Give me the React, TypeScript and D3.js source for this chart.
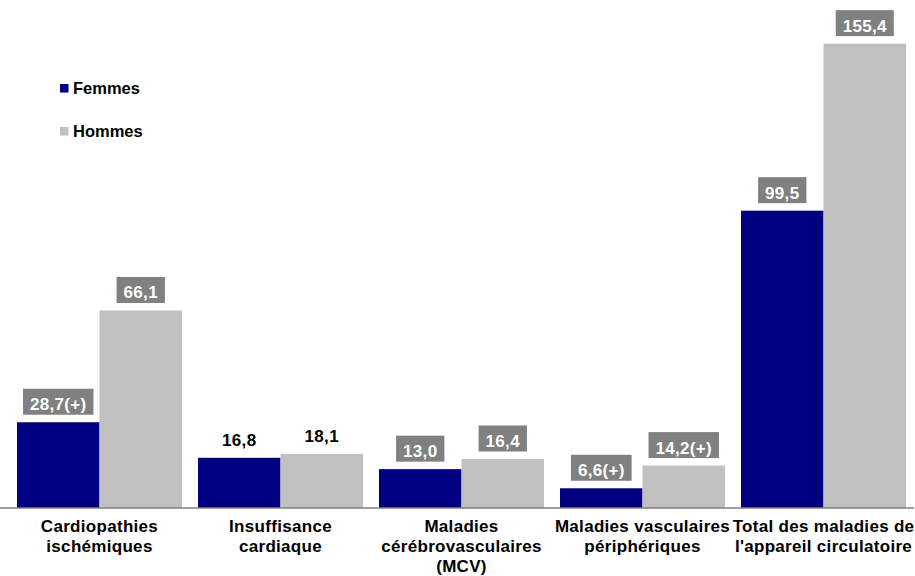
import React, { useEffect, useRef } from "react";
import * as d3 from "d3";

const categories: string[][] = [
  ["Cardiopathies", "ischémiques"],
  ["Insuffisance", "cardiaque"],
  ["Maladies", "cérébrovasculaires", "(MCV)"],
  ["Maladies vasculaires", "périphériques"],
  ["Total des maladies de", "l'appareil circulatoire"],
];
const seriesNames = ["Femmes", "Hommes"];
const femmes = [28.7, 16.8, 13.0, 6.6, 99.5];
const hommes = [66.1, 18.1, 16.4, 14.2, 155.4];
const femmesLabels = ["28,7(+)", "16,8", "13,0", "6,6(+)", "99,5"];
const hommesLabels = ["66,1", "18,1", "16,4", "14,2(+)", "155,4"];
const femmesBoxed = [true, false, true, true, true];
const hommesBoxed = [true, false, true, true, true];
const colors = ["#000080", "#C0C0C0"];

const W = 915;
const H = 576;
const FONT = "Arial, 'Liberation Sans', sans-serif";
const FS = 17;
const LS = 0.3;

export default function App() {
  const ref = useRef<SVGSVGElement>(null);

  useEffect(() => {
    const svg = d3.select(ref.current);
    svg.selectAll("*").remove();

    const catIdx = categories.map((_, i) => String(i));
    const x = d3.scaleBand<string>().domain(catIdx).range([9, 914]).padding(0);
    const xs = d3
      .scaleBand<string>()
      .domain(seriesNames)
      .range([8, x.bandwidth() - 8])
      .padding(0);
    const y = d3.scaleLinear().domain([0, 170]).range([508, 0]);

    const series = [
      { name: "Femmes", values: femmes, labels: femmesLabels, boxed: femmesBoxed, color: colors[0] },
      { name: "Hommes", values: hommes, labels: hommesLabels, boxed: hommesBoxed, color: colors[1] },
    ];

    const g = svg.append("g");

    series.forEach((s) => {
      s.values.forEach((v, i) => {
        const bx = (x(String(i)) as number) + (xs(s.name) as number);
        g.append("rect")
          .attr("x", bx)
          .attr("y", y(v))
          .attr("width", xs.bandwidth())
          .attr("height", y(0) - y(v))
          .attr("fill", s.color);
      });
    });

    g.append("line")
      .attr("x1", 0)
      .attr("x2", 914)
      .attr("y1", y(0))
      .attr("y2", y(0))
      .attr("stroke", "#808080")
      .attr("stroke-width", 1.5);

    series.forEach((s) => {
      s.values.forEach((v, i) => {
        const cx = (x(String(i)) as number) + (xs(s.name) as number) + xs.bandwidth() / 2;
        const baseline = y(v) - 12;
        const lg = g.append("g");
        const rect = lg.append("rect");
        const t = lg
          .append("text")
          .attr("x", cx)
          .attr("y", baseline)
          .attr("text-anchor", "middle")
          .attr("font-family", FONT)
          .attr("font-weight", "bold")
          .attr("font-size", FS)
          .attr("letter-spacing", LS)
          .attr("fill", s.boxed[i] ? "#ffffff" : "#000000")
          .text(s.labels[i]);
        if (s.boxed[i]) {
          const w = (t.node() as SVGTextElement).getComputedTextLength();
          rect
            .attr("x", cx - w / 2 - 7)
            .attr("y", baseline - 21.5)
            .attr("width", w + 14)
            .attr("height", 26)
            .attr("fill", "#808080");
        } else {
          rect.remove();
        }
      });
    });

    categories.forEach((lines, i) => {
      const cx = (x(String(i)) as number) + x.bandwidth() / 2;
      lines.forEach((ln, j) => {
        g.append("text")
          .attr("x", cx)
          .attr("y", 532 + j * 20)
          .attr("text-anchor", "middle")
          .attr("font-family", FONT)
          .attr("font-weight", "bold")
          .attr("font-size", FS)
          .attr("letter-spacing", LS)
          .attr("fill", "#000000")
          .text(ln);
      });
    });

    seriesNames.forEach((n, i) => {
      const ly = 84 + i * 43;
      g.append("rect")
        .attr("x", 60)
        .attr("y", ly)
        .attr("width", 8.5)
        .attr("height", 8.5)
        .attr("fill", colors[i]);
      g.append("text")
        .attr("x", 73)
        .attr("y", ly + 10)
        .attr("font-family", FONT)
        .attr("font-weight", "bold")
        .attr("font-size", 16.5)
        .attr("fill", "#000000")
        .text(n);
    });
  }, []);

  return (
    <svg
      ref={ref}
      width={W}
      height={H}
      style={{ position: "absolute", left: 0, top: 0, background: "#ffffff" }}
    />
  );
}
